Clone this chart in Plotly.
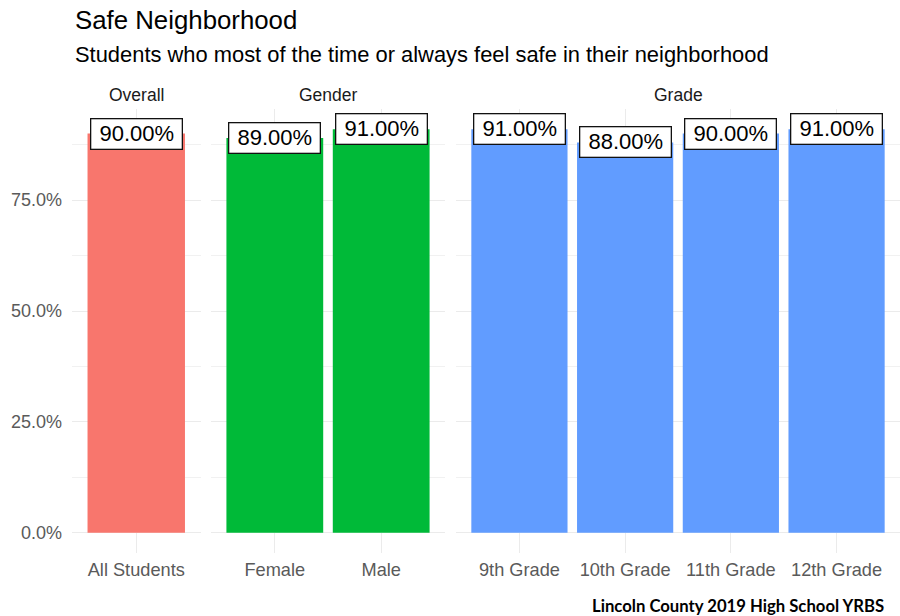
import plotly.graph_objects as go

# ---- data ----
overall_cats = ["All Students"]
overall_vals = [90]
gender_cats = ["Female", "Male"]
gender_vals = [89, 91]
grade_cats = ["9th Grade", "10th Grade", "11th Grade", "12th Grade"]
grade_vals = [91, 88, 90, 91]
facet_names = ["Overall", "Gender", "Grade"]
colors = ["#F8766D", "#00BA38", "#619CFF"]

title = "Safe Neighborhood"
subtitle = "Students who most of the time or always feel safe in their neighborhood"
caption = "Lincoln County 2019 High School YRBS"

W, H = 900, 616
FONT = "Liberation Sans"
GRID = "#EBEBEB"
TICK_COLOR = "#5A5A5A"


def px_x(p):
    return p / W


def px_y(p):
    return 1 - p / H


# panel pixel extents
panels_px = [(72, 200.5), (211, 445), (456, 900)]
top_px, bot_px = 109, 553
ydom = [px_y(bot_px), px_y(top_px)]

groups = [(overall_cats, overall_vals), (gender_cats, gender_vals), (grade_cats, grade_vals)]
ymax = max(max(v) for _, v in groups)
yrange = [-0.05 * ymax, ymax * 1.05]

fig = go.Figure()
layout = dict(
    width=W, height=H,
    margin=dict(l=0, r=0, t=0, b=0),
    paper_bgcolor="white", plot_bgcolor="white",
    showlegend=False,
    font=dict(family=FONT, color=TICK_COLOR),
)
annotations = []
NB = "\u00a0"

for i, ((cats, vals), color, fname, (p0, p1)) in enumerate(zip(groups, colors, facet_names, panels_px)):
    suffix = "" if i == 0 else str(i + 1)
    xa, ya = "x" + suffix, "y" + suffix
    fig.add_trace(go.Bar(
        x=cats, y=vals, xaxis=xa, yaxis=ya,
        marker=dict(color=color, line=dict(width=0)),
        width=0.91, hoverinfo="x+y",
    ))
    layout["xaxis" + suffix] = dict(
        domain=[px_x(p0), min(px_x(p1), 1)], anchor=ya,
        type="category", range=[-0.6, len(cats) - 0.4],
        showgrid=True, gridcolor=GRID, gridwidth=1,
        showline=False, zeroline=False, ticks="",
        tickfont=dict(size=18.2, color=TICK_COLOR, family=FONT),
        ticklabelstandoff=4,
        fixedrange=True,
    )
    yax = dict(
        domain=ydom, anchor=xa, range=yrange,
        tickmode="linear", tick0=0, dtick=25,
        tickformat=".1f", ticksuffix="%",
        showgrid=True, gridcolor=GRID, gridwidth=1,
        minor=dict(dtick=12.5, tick0=0, showgrid=True, gridcolor=GRID, gridwidth=0.7),
        zeroline=False, showline=False, ticks="",
        tickfont=dict(size=18, color=TICK_COLOR, family=FONT),
        ticklabelstandoff=9,
        fixedrange=True,
    )
    if i > 0:
        yax["matches"] = "y"
        yax["showticklabels"] = False
    layout["yaxis" + suffix] = yax

    # facet strip label
    annotations.append(dict(
        text=fname, xref="paper", yref="paper",
        x=px_x((p0 + p1) / 2), y=px_y(95),
        xanchor="center", yanchor="middle", showarrow=False,
        font=dict(size=17.5, color="#1A1A1A", family=FONT),
    ))
    # value labels
    for c, v in zip(cats, vals):
        annotations.append(dict(
            text=f"{NB}{v:.2f}%{NB}", xref=xa, yref=ya, x=c, y=v,
            xanchor="center", yanchor="middle", showarrow=False,
            font=dict(size=22, color="black", family=FONT),
            bgcolor="white", bordercolor="#111111", borderwidth=1.3, borderpad=2,
        ))

annotations += [
    dict(text=title, xref="paper", yref="paper", x=px_x(73), y=px_y(20),
         xanchor="left", yanchor="middle", showarrow=False,
         font=dict(size=25.8, color="black", family=FONT)),
    dict(text=subtitle, xref="paper", yref="paper", x=px_x(73), y=px_y(54),
         xanchor="left", yanchor="middle", showarrow=False,
         font=dict(size=21.9, color="black", family=FONT)),
    dict(text=caption, xref="paper", yref="paper", x=px_x(886), y=px_y(606),
         xanchor="right", yanchor="middle", showarrow=False,
         font=dict(size=16.7, color="black", family="Lato", weight="bold")),
]
layout["annotations"] = annotations
fig.update_layout(**layout)
fig.write_html(
    "out.html",
    config={"displayModeBar": False, "staticPlot": True},
    post_script="document.body.style.margin='0';document.body.style.overflow='hidden';",
)
